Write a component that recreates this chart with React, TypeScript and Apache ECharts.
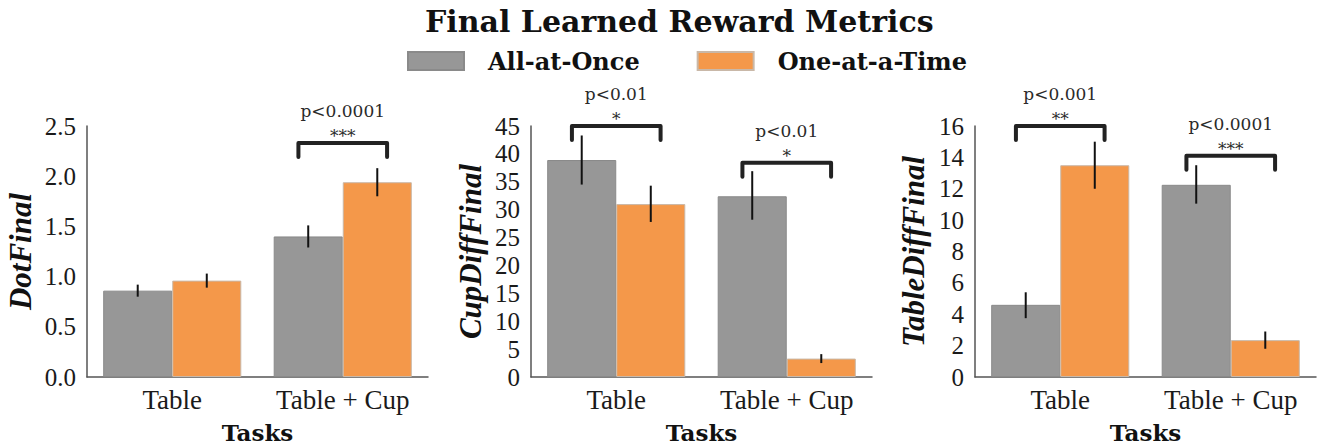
import React, { useEffect, useRef } from "react";
import * as echarts from "echarts";

const categories = ["Table", "Table + Cup"];
const seriesNames = ["All-at-Once", "One-at-a-Time"];
const colors = ["#979797", "#F4984A"];

// DotFinal
const dotAll = [0.86, 1.4];
const dotOne = [0.96, 1.94];
const dotAllErr = [[0.8, 0.92], [1.29, 1.51]];
const dotOneErr = [[0.89, 1.03], [1.8, 2.08]];
const dotBrackets = [{ cat: 1, y: 2.33, p: "p<0.0001", stars: "***" }];

// CupDiffFinal
const cupAll = [38.9, 32.4];
const cupOne = [31.0, 3.3];
const cupAllErr = [[34.5, 43.3], [28.2, 36.9]];
const cupOneErr = [[27.8, 34.3], [2.5, 4.1]];
const cupBrackets = [
  { cat: 0, y: 45.0, p: "p<0.01", stars: "*" },
  { cat: 1, y: 38.4, p: "p<0.01", stars: "*" },
];

// TableDiffFinal
const tabAll = [4.6, 12.25];
const tabOne = [13.5, 2.35];
const tabAllErr = [[3.75, 5.4], [11.05, 13.5]];
const tabOneErr = [[12.0, 15.0], [1.8, 2.9]];
const tabBrackets = [
  { cat: 0, y: 16.0, p: "p<0.001", stars: "**" },
  { cat: 1, y: 14.1, p: "p<0.0001", stars: "***" },
];

const panels = [
  { name: "DotFinal", all: dotAll, one: dotOne, allErr: dotAllErr, oneErr: dotOneErr, brackets: dotBrackets, min: 0, max: 2.5, interval: 0.5, dec: 1, left: 87, right: 889, nameGap: 51 },
  { name: "CupDiffFinal", all: cupAll, one: cupOne, allErr: cupAllErr, oneErr: cupOneErr, brackets: cupBrackets, min: 0, max: 45, interval: 5, dec: 0, left: 531, right: 445, nameGap: 45 },
  { name: "TableDiffFinal", all: tabAll, one: tabOne, allErr: tabAllErr, oneErr: tabOneErr, brackets: tabBrackets, min: 0, max: 16, interval: 2, dec: 0, left: 975, right: 1, nameGap: 46 },
];

const CAT_GAP = 0.19;

export default function App() {
  const ref = useRef<HTMLDivElement>(null);
  useEffect(() => {
    if (!ref.current) return;
    const chart = echarts.init(ref.current, undefined, { renderer: "svg" });
    const grids: any[] = [];
    const xAxes: any[] = [];
    const yAxes: any[] = [];
    const series: any[] = [];
    panels.forEach((p, i) => {
      grids.push({ left: p.left, right: p.right, top: 126, bottom: 68, containLabel: false, outerBoundsMode: "none" });
      xAxes.push({
        type: "category",
        gridIndex: i,
        data: categories,
        axisLine: { show: true, lineStyle: { color: "#555", width: 1.5 } },
        axisTick: { show: false },
        axisLabel: { interval: 0, margin: 9, fontSize: 27, fontFamily: "Liberation Serif", color: "#1a1a1a", hideOverlap: false },
        name: "Tasks",
        nameLocation: "middle",
        nameGap: 44,
        nameTextStyle: { fontFamily: "DejaVu Serif", fontWeight: "bold", fontSize: 23, lineHeight: 23, color: "#111" },
        splitLine: { show: false },
      });
      yAxes.push({
        type: "value",
        gridIndex: i,
        min: p.min,
        max: p.max,
        interval: p.interval,
        axisLine: { show: true, lineStyle: { color: "#555", width: 1.5 } },
        axisTick: { show: false },
        splitLine: { show: false },
        axisLabel: {
          margin: 11,
          fontSize: 25,
          fontFamily: "Liberation Serif",
          color: "#1a1a1a",
          formatter: (v: number) => v.toFixed(p.dec),
        },
        name: p.name,
        nameLocation: "middle",
        nameGap: p.nameGap,
        nameTextStyle: { fontFamily: "Liberation Serif", fontWeight: "bold", fontStyle: "italic", fontSize: 31, lineHeight: 31, color: "#111" },
      });
      series.push({
        type: "bar",
        name: seriesNames[0],
        xAxisIndex: i,
        yAxisIndex: i,
        data: p.all,
        barGap: "0%",
        barCategoryGap: "19%",
        itemStyle: { color: colors[0], borderColor: "#8a8a8a", borderWidth: 1 },
      });
      series.push({
        type: "bar",
        name: seriesNames[1],
        xAxisIndex: i,
        yAxisIndex: i,
        data: p.one,
        barGap: "0%",
        barCategoryGap: "19%",
        itemStyle: { color: colors[1], borderColor: "#c9b8a8", borderWidth: 1 },
      });
      const errData: number[][] = [];
      p.allErr.forEach((e, c) => errData.push([c, e[0], e[1], 0]));
      p.oneErr.forEach((e, c) => errData.push([c, e[0], e[1], 1]));
      series.push({
        type: "custom",
        xAxisIndex: i,
        yAxisIndex: i,
        data: errData,
        encode: { x: 0, y: [1, 2] },
        z: 5,
        renderItem: (params: any, api: any) => {
          const c = api.value(0);
          const lo = api.coord([c, api.value(1)]);
          const hi = api.coord([c, api.value(2)]);
          const band = api.size([1, 0])[0];
          const bw = (band * (1 - CAT_GAP)) / 2;
          const x = lo[0] + (api.value(3) === 0 ? -bw / 2 : bw / 2);
          return {
            type: "line",
            shape: { x1: x, y1: lo[1], x2: x, y2: hi[1] },
            style: { stroke: "#111", lineWidth: 2 },
          };
        },
      });
      series.push({
        type: "custom",
        xAxisIndex: i,
        yAxisIndex: i,
        data: p.brackets.map((b) => [b.cat, b.y]),
        encode: { x: 0, y: 1 },
        z: 6,
        clip: false,
        renderItem: (params: any, api: any) => {
          const b = p.brackets[params.dataIndex];
          const pt = api.coord([api.value(0), api.value(1)]);
          const band = api.size([1, 0])[0];
          const half = band * 0.26;
          const leg = 14;
          return {
            type: "group",
            children: [
              {
                type: "polyline",
                shape: { points: [[pt[0] - half, pt[1] + leg], [pt[0] - half, pt[1]], [pt[0] + half, pt[1]], [pt[0] + half, pt[1] + leg]] },
                style: { stroke: "#222", lineWidth: 4, fill: null, lineJoin: "round", lineCap: "round" },
              },
              {
                type: "text",
                x: pt[0],
                y: pt[1] - 32,
                style: { text: b.p, fontFamily: "DejaVu Serif", fontSize: 17, fill: "#2a2a2a", align: "center", verticalAlign: "middle" },
              },
              {
                type: "text",
                x: pt[0],
                y: pt[1] - 7,
                style: { text: b.stars, fontFamily: "DejaVu Serif", fontSize: 17, fill: "#2a2a2a", align: "center", verticalAlign: "middle" },
              },
            ],
          };
        },
      });
    });

    chart.setOption({
      animation: false,
      title: {
        text: "Final Learned Reward Metrics",
        left: 425,
        top: 6,
        padding: 0,
        textStyle: { fontFamily: "DejaVu Serif", fontWeight: "bold", fontSize: 30, color: "#111" },
      },
      legend: {
        data: seriesNames,
        left: 407,
        top: 49,
        padding: 0,
        icon: "rect",
        itemWidth: 56,
        itemHeight: 18,
        itemGap: 57,
        textStyle: { fontFamily: "DejaVu Serif", fontWeight: "bold", fontSize: 24, color: "#111", padding: [0, 0, 0, 19] },
      },
      grid: grids,
      xAxis: xAxes,
      yAxis: yAxes,
      series,
    });
    return () => chart.dispose();
  }, []);
  return <div ref={ref} style={{ position: "fixed", left: 0, top: 0, width: 1317, height: 445, background: "#fff" }} />;
}
